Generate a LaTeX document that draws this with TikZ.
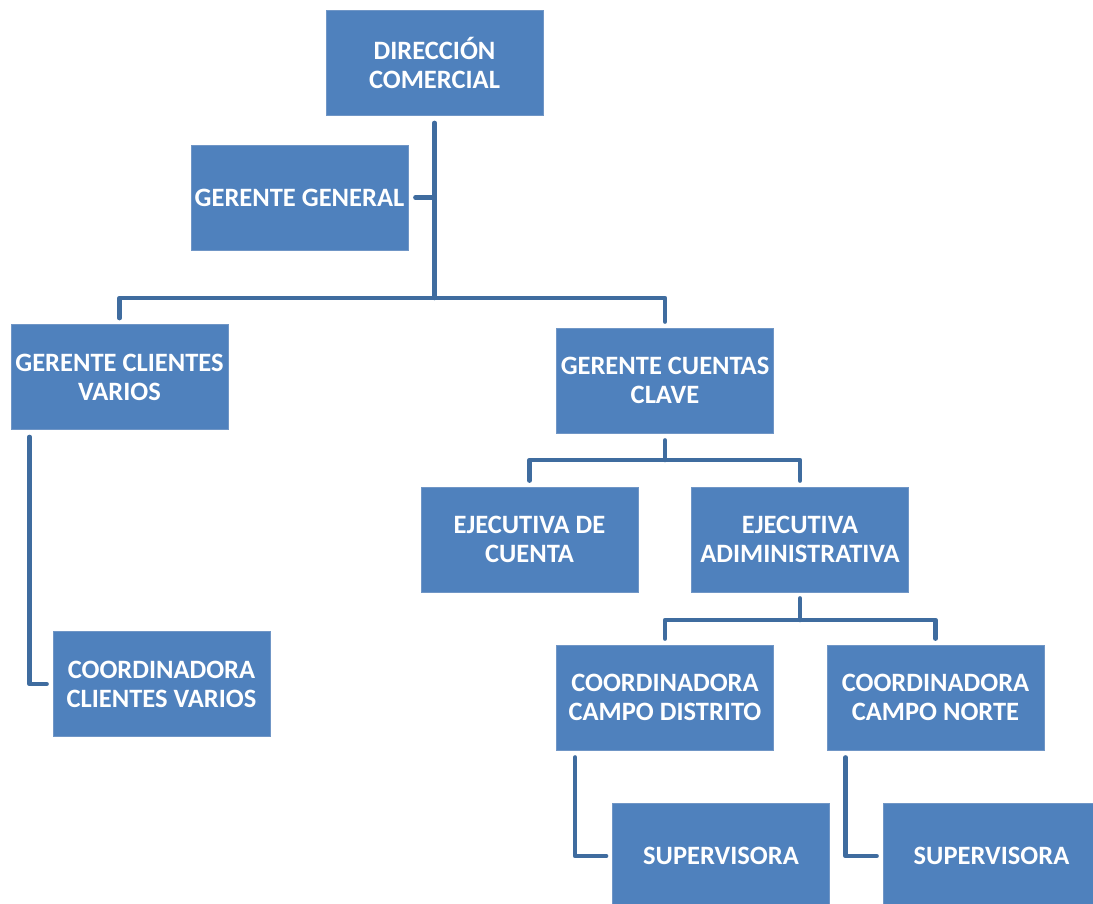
\documentclass[tikz,border=0pt]{standalone}
\usepackage{fontspec}
\setmainfont{Carlito}
\usepackage{tikz}
\usetikzlibrary{calc}
\usepackage{xcolor}
\definecolor{boxblue}{HTML}{4F81BD}
\definecolor{boxedge}{HTML}{7096C6}
\definecolor{linkblue}{HTML}{3F6C9F}

\begin{document}
\begin{tikzpicture}[
  x=1pt, y=-1pt,
  post/.style={rectangle,fill=boxblue,draw=boxedge,line width=0.8pt,
    minimum width=217pt,minimum height=105pt,inner sep=1pt,
    text=white,align=center,font=\fontsize{26.5}{29}\selectfont\bfseries},
  link/.style={draw=linkblue,line width=4.5pt,line join=round,line cap=round}
  ]
\def\gap{7pt}
\def\drop{19pt}
\useasboundingbox (0,0) rectangle (1093,903);
\node[post] (dir)  at (434.5,63)  {DIRECCIÓN\\COMERCIAL};           % top
\node[post] (gg)   at (299.5,197.5) {GERENTE GENERAL};              % staff box
\node[post] (gcv)  at (119.5,377) {GERENTE CLIENTES\\VARIOS};
\node[post] (gcc)  at (665,380.5) {GERENTE CUENTAS\\CLAVE};
\node[post] (ejc)  at (529.5,539.5) {EJECUTIVA DE\\CUENTA};
\node[post] (eja)  at (800,539.5) {EJECUTIVA\\ADIMINISTRATIVA};
\node[post] (ccv)  at (161.5,684) {COORDINADORA\\CLIENTES VARIOS};
\node[post] (ccd)  at (665,697.5) {COORDINADORA\\CAMPO DISTRITO};
\node[post] (ccn)  at (935.5,697.5) {COORDINADORA\\CAMPO NORTE};
\node[post] (sup1) at (721,856)   {SUPERVISORA};
\node[post] (sup2) at (991.5,856) {SUPERVISORA};
\coordinate (bus1) at (434.5,298);                                 % junction under dir
\coordinate (bus2) at (665,460);                                   % junction under gcc
\coordinate (bus3) at (800,620);                                   % junction under eja
\draw[link] ([yshift=-\gap]dir.south) -- (bus1);
\draw[link] ([xshift=\gap]gg.east) -- (gg.east -| bus1);
\draw[link] ([yshift=6pt]gcv.north) |- (bus1) -| ([yshift=6pt]gcc.north);
\draw[link] ([xshift=\drop,yshift=-\gap]gcv.south west) |- ([xshift=-6pt]ccv.west);
\draw[link] ([yshift=-\gap]gcc.south) -- (bus2);
\draw[link] ([yshift=6pt]ejc.north) |- (bus2) -| ([yshift=6pt]eja.north);
\draw[link] ([yshift=-6pt]eja.south) -- (bus3);
\draw[link] ([yshift=6pt]ccd.north) |- (bus3) -| ([yshift=6pt]ccn.north);
\draw[link] ([xshift=\drop,yshift=-\gap]ccd.south west) |- ([xshift=-6pt]sup1.west);
\draw[link] ([xshift=\drop,yshift=-\gap]ccn.south west) |- ([xshift=-6pt]sup2.west);
\end{tikzpicture}
\end{document}
